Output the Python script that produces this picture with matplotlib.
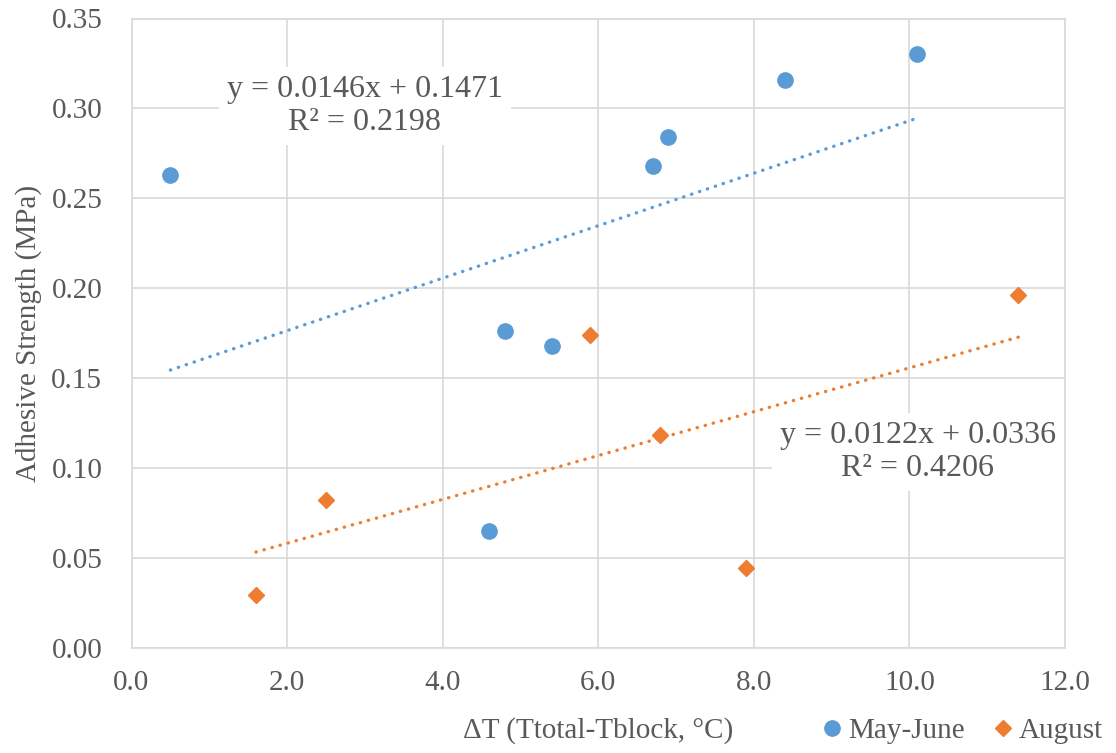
import matplotlib.pyplot as plt
import numpy as np

# --- data ---
may_x = [0.5, 4.8, 5.4, 4.6, 6.7, 6.9, 8.4, 10.1]
may_y = [0.263, 0.176, 0.168, 0.065, 0.268, 0.284, 0.316, 0.330]
aug_x = [1.6, 2.5, 5.9, 6.8, 7.9, 11.4]
aug_y = [0.029, 0.082, 0.174, 0.118, 0.044, 0.196]

may_fit = (0.0146, 0.1471)
aug_fit = (0.0122, 0.0336)
may_r2 = 0.2198
aug_r2 = 0.4206

x_ticks = np.arange(0, 12.1, 2)
y_ticks = np.arange(0, 0.351, 0.05)

# --- style ---
plt.rcParams['font.family'] = ['Liberation Serif', 'DejaVu Serif']
text_c = '#595959'
grid_c = '#D9D9D9'
blue = '#5B9BD5'
orange = '#ED7D31'

fig = plt.figure(figsize=(11.16, 7.53), dpi=100)
ax = fig.add_axes([131.5 / 1116, 105.5 / 753, 933.5 / 1116, 629 / 753])

# trend lines (dotted, round dots)
for xs, (m, b), col in [(may_x, may_fit, blue), (aug_x, aug_fit, orange)]:
    xx = np.array([min(xs), max(xs)])
    ax.plot(xx, m * xx + b, color=col, lw=2.4, ls=(0, (0.1, 2.4)),
            dash_capstyle='round', zorder=2)

# points
ax.plot(may_x, may_y, ls='none', marker='o', ms=11, color=blue,
        label='May-June', zorder=3)
ax.plot(aug_x, aug_y, ls='none', marker='D', ms=7.8, color=orange,
        label='August', zorder=3)

# equation labels
ax.text(3.0, 0.3013, f'y = {may_fit[0]}x + {may_fit[1]}\nR² = {may_r2}',
        ha='center', va='center', fontsize=23, color=text_c, linespacing=1.15,
        bbox=dict(facecolor='white', edgecolor='none', pad=6), zorder=4)
ax.text(10.11, 0.1088, f'y = {aug_fit[0]}x + {aug_fit[1]}\nR² = {aug_r2}',
        ha='center', va='center', fontsize=23, color=text_c, linespacing=1.15,
        bbox=dict(facecolor='white', edgecolor='none', pad=6), zorder=4)

ax.set_xlim(0, 12)
ax.set_ylim(0, 0.35)
ax.set_xticks(x_ticks)
ax.set_yticks(y_ticks)
ax.set_xticklabels([f'{v:.1f}' for v in x_ticks])
ax.set_yticklabels([f'{v:.2f}' for v in y_ticks])
ax.tick_params(axis='x', length=0, pad=16, labelsize=21, labelcolor=text_c)
ax.tick_params(axis='y', length=0, pad=21, labelsize=21, labelcolor=text_c)
ax.grid(True, color=grid_c, lw=1.2, zorder=0)
ax.set_axisbelow(True)
for s in ax.spines.values():
    s.set_color(grid_c)
    s.set_linewidth(1.2)

ax.set_xlabel('ΔT (Ttotal-Tblock, °C)', fontsize=21, color=text_c)
ax.xaxis.set_label_coords(0.5, -0.111)
ax.set_ylabel('Adhesive Strength (MPa)', fontsize=21, color=text_c)
ax.yaxis.set_label_coords(-0.096, 0.5)

fig.legend(loc='center right', bbox_to_anchor=(1103 / 1116, 1 - 731 / 753),
           ncol=2, frameon=False, fontsize=21, labelcolor=text_c,
           borderpad=0, borderaxespad=0, handletextpad=0.25,
           handlelength=0.6, columnspacing=1.0, numpoints=1)

plt.savefig('out.png', dpi=100)
